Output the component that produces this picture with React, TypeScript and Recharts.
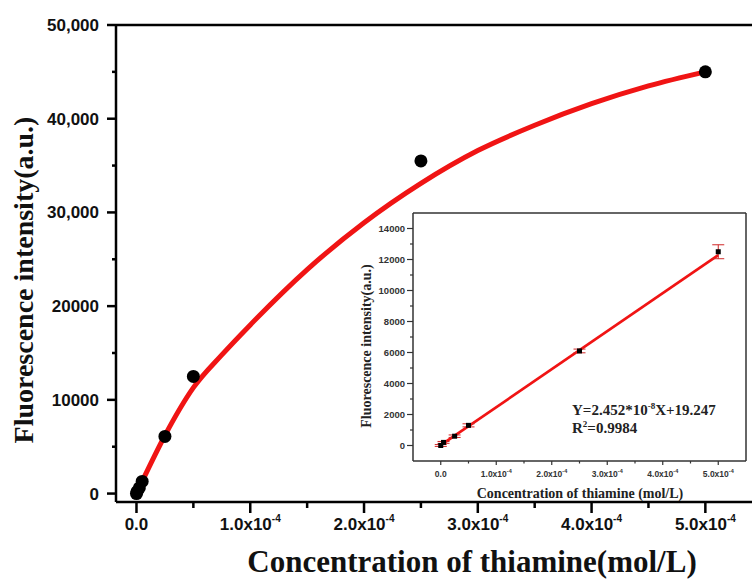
import React from "react";
import {
  ComposedChart,
  Line,
  Scatter,
  ErrorBar,
  XAxis,
  YAxis,
  ReferenceLine,
} from "recharts";

// concentration in units of 1e-4 mol/L
const pointConc = [0, 0.005, 0.025, 0.05, 0.25, 0.5, 2.5, 5];
const pointIntensity = [0, 200, 600, 1300, 6100, 12500, 35500, 45000];

const fitConc = [0.05, 0.25, 0.5, 0.75, 1, 1.5, 2, 2.5, 3, 3.5, 4, 4.5, 5];
const fitIntensity = [1300, 6200, 11300, 14800, 18000, 23900, 28900, 33100, 36600, 39300, 41600, 43500, 45000];

const mainXTicks = [0, 0.5, 1, 1.5, 2, 2.5, 3, 3.5, 4, 4.5, 5];
const mainYTicks = [0, 5000, 10000, 15000, 20000, 25000, 30000, 35000, 40000, 45000, 50000];

// inset, in the units printed on its axis
const insetConc = [0, 0.05, 0.25, 0.5, 2.5, 5];
const insetIntensity = [0, 200, 600, 1300, 6100, 12500];
const insetErr = [60, 60, 80, 100, 120, 450];
const insetFitConc = [0, 5];
const insetFitIntensity = [20, 12280];
const insetXTicks = [0, 0.5, 1, 1.5, 2, 2.5, 3, 3.5, 4, 4.5, 5];
const insetYTicks = [0, 1000, 2000, 3000, 4000, 5000, 6000, 7000, 8000, 9000, 10000, 11000, 12000, 13000, 14000];

const points = pointConc.map((x, i) => ({ x, y: pointIntensity[i] }));
const fit = fitConc.map((x, i) => ({ x, y: fitIntensity[i] }));
const insetPoints = insetConc.map((x, i) => ({ x, y: insetIntensity[i], err: insetErr[i] }));
const insetFit = insetFitConc.map((x, i) => ({ x, y: insetFitIntensity[i] }));

const SERIF = "'Liberation Serif', 'Times New Roman', serif";
const SANS = "'Liberation Sans', Arial, sans-serif";
const RED = "#f01414";

const isWhole = (v: number) => Math.abs(v - Math.round(v)) < 1e-6;

function MainXTick(props: any) {
  const { x, y, payload } = props;
  const v = payload.value;
  const major = isWhole(v);
  return (
    <g>
      <line x1={x} x2={x} y1={y} y2={y + (major ? 11 : 6)} stroke="#000" strokeWidth={2.5} />
      {major && (
        <text x={x} y={y + 28} textAnchor="middle" fontFamily={SANS} fontWeight="bold" fontSize={17} fill="#111">
          {v === 0 ? "0.0" : `${v.toFixed(1)}x10`}
          {v !== 0 && (
            <tspan dy={-8} fontSize={10}>-4</tspan>
          )}
        </text>
      )}
    </g>
  );
}

function MainYTick(props: any) {
  const { x, y, payload } = props;
  const v = payload.value;
  const major = v % 10000 === 0;
  const label = v >= 30000 ? v.toLocaleString("en-US") : String(v);
  return (
    <g>
      <line x1={x - (major ? 9 : 4)} x2={x} y1={y} y2={y} stroke="#000" strokeWidth={2.5} />
      {major && (
        <text x={x - 17} y={y} dy={6} textAnchor="end" fontFamily={SANS} fontWeight="bold" fontSize={17} fill="#111">
          {label}
        </text>
      )}
    </g>
  );
}

function InsetXTick(props: any) {
  const { x, y, payload } = props;
  const v = payload.value;
  const major = isWhole(v);
  return (
    <g>
      <line x1={x} x2={x} y1={y} y2={y + (major ? 4 : 2.5)} stroke="#333" strokeWidth={1.2} />
      {major && (
        <text x={x} y={y + 16} textAnchor="middle" fontFamily={SANS} fontWeight="bold" fontSize={8.5} fill="#333">
          {v === 0 ? "0.0" : `${v.toFixed(1)}x10`}
          {v !== 0 && (
            <tspan dy={-4} fontSize={5.5}>-4</tspan>
          )}
        </text>
      )}
    </g>
  );
}

function InsetYTick(props: any) {
  const { x, y, payload } = props;
  const v = payload.value;
  const major = v % 2000 === 0;
  return (
    <g>
      <line x1={x - (major ? 6 : 3)} x2={x} y1={y} y2={y} stroke="#333" strokeWidth={1.2} />
      {major && (
        <text x={x - 8} y={y} dy={3.5} textAnchor="end" fontFamily={SANS} fontWeight="bold" fontSize={9.5} fill="#333">
          {v}
        </text>
      )}
    </g>
  );
}

const dot = (p: any) => <circle cx={p.cx} cy={p.cy} r={6.5} fill="#000" />;
const square = (p: any) => <rect x={p.cx - 2.5} y={p.cy - 2.5} width={5} height={5} fill="#000" />;

export default function App() {
  return (
    <div style={{ position: "absolute", left: 0, top: 0, width: 752, height: 581, background: "#fff", overflow: "hidden" }}>
      <div style={{ position: "absolute", left: 0, top: 0 }}>
        <ComposedChart width={752} height={581} margin={{ top: 25, right: 0, bottom: 0, left: 0 }}>
          <XAxis
            type="number"
            dataKey="x"
            domain={[-0.18, 5.41]}
            ticks={mainXTicks}
            interval={0}
            height={79}
            tickSize={0}
            tickMargin={0}
            tickLine={false}
            tick={<MainXTick />}
            axisLine={{ stroke: "#000", strokeWidth: 2.5 }}
            allowDataOverflow
          />
          <YAxis
            type="number"
            dataKey="y"
            domain={[-900, 50000]}
            ticks={mainYTicks}
            interval={0}
            width={116}
            tickSize={0}
            tickMargin={0}
            tickLine={false}
            tick={<MainYTick />}
            axisLine={{ stroke: "#000", strokeWidth: 2.5 }}
            allowDataOverflow
          />
          <ReferenceLine y={50000} stroke="#000" strokeWidth={2.5} />
          <Line data={fit} dataKey="y" type="monotone" stroke={RED} strokeWidth={5} dot={false} isAnimationActive={false} />
          <Scatter data={points} dataKey="y" shape={dot} isAnimationActive={false} />
        </ComposedChart>
      </div>

      <div style={{ position: "absolute", left: 340, top: 200 }}>
        <ComposedChart width={412} height={310} margin={{ top: 13, right: 6, bottom: 0, left: 0 }}>
          <XAxis
            type="number"
            dataKey="x"
            domain={[-0.5, 5.5]}
            ticks={insetXTicks}
            interval={0}
            height={49}
            tickSize={0}
            tickMargin={0}
            tickLine={false}
            tick={<InsetXTick />}
            axisLine={{ stroke: "#333", strokeWidth: 1.5 }}
          />
          <YAxis
            type="number"
            dataKey="y"
            domain={[-1000, 15000]}
            ticks={insetYTicks}
            interval={0}
            width={73}
            tickSize={0}
            tickMargin={0}
            tickLine={false}
            tick={<InsetYTick />}
            axisLine={{ stroke: "#333", strokeWidth: 1.5 }}
          />
          <ReferenceLine y={15000} stroke="#333" strokeWidth={1.5} />
          <ReferenceLine x={5.5} stroke="#333" strokeWidth={1.5} />
          <Line data={insetFit} dataKey="y" type="linear" stroke={RED} strokeWidth={2.7} dot={false} isAnimationActive={false} />
          <Scatter data={insetPoints} dataKey="y" shape={square} isAnimationActive={false}>
            <ErrorBar dataKey="err" direction="y" width={6} stroke="#d02828" strokeWidth={1} />
          </Scatter>
        </ComposedChart>
      </div>

      <svg width={752} height={581} style={{ position: "absolute", left: 0, top: 0, pointerEvents: "none" }}>
        <text
          transform="translate(33,280) rotate(-90)"
          textAnchor="middle"
          fontFamily={SERIF}
          fontWeight="bold"
          fontSize={28}
          fill="#111"
        >
          Fluorescence intensity(a.u.)
        </text>
        <text x={472} y={572} textAnchor="middle" fontFamily={SERIF} fontWeight="bold" fontSize={31} fill="#111">
          Concentration of thiamine(mol/L)
        </text>
        <text
          transform="translate(371,346) rotate(-90)"
          textAnchor="middle"
          fontFamily={SERIF}
          fontWeight="bold"
          fontSize={14}
          fill="#222"
        >
          Fluorescence intensity(a.u.)
        </text>
        <text x={580} y={498} textAnchor="middle" fontFamily={SERIF} fontWeight="bold" fontSize={14} fill="#222">
          Concentration of  thiamine (mol/L)
        </text>
        <text x={572} y={415} fontFamily={SERIF} fontWeight="bold" fontSize={15} fill="#222">
          Y=2.452*10<tspan dy={-6} fontSize={9}>-8</tspan>
          <tspan dy={6}>X+19.247</tspan>
        </text>
        <text x={572} y={433} fontFamily={SERIF} fontWeight="bold" fontSize={15} fill="#222">
          R<tspan dy={-6} fontSize={9}>2</tspan>
          <tspan dy={6}>=0.9984</tspan>
        </text>
      </svg>
    </div>
  );
}
